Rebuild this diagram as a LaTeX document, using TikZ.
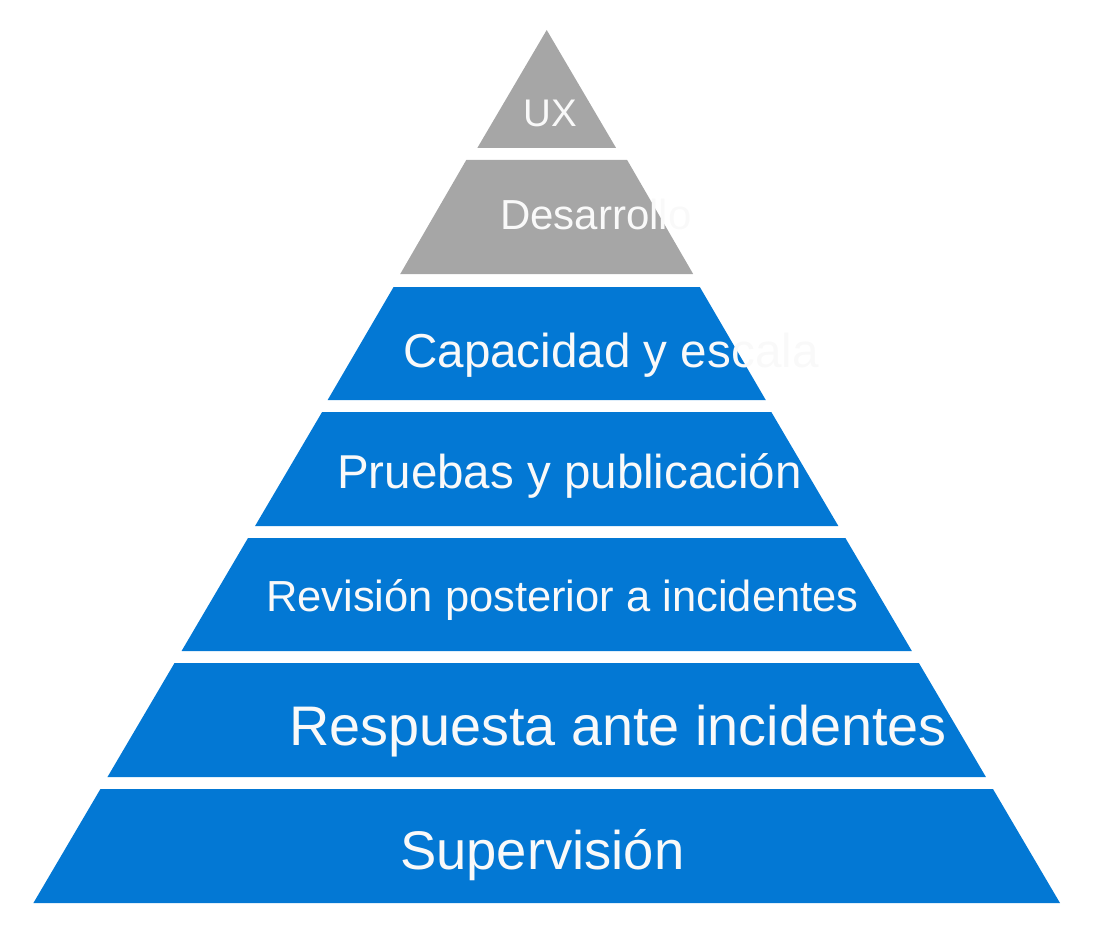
\documentclass[tikz,border=0pt]{standalone}
\usepackage{fontspec}
\setmainfont{Liberation Sans}
\definecolor{pblue}{HTML}{0378D4}
\definecolor{pgray}{HTML}{A6A6A6}
\definecolor{ptext}{HTML}{F9F9F9}
% colour, top y, bottom y, extra half-width at top, extra half-width at bottom
\newcommand\pyrlayer[5]{%
  \pgfmathsetmacro\wt{0.58797*(#2-30)+#4}%
  \pgfmathsetmacro\wb{0.58797*(#3-30)+#5}%
  \fill[#1] ({546.7-\wt},#2) -- ({546.7+\wt},#2) -- ({546.7+\wb},#3) -- ({546.7-\wb},#3) -- cycle;}
\begin{document}
\begin{tikzpicture}[x=1pt,y=-1pt,
  lbl/.style={text=ptext, inner sep=0pt, anchor=base west}]
\useasboundingbox (0,0) rectangle (1102,941);
\pyrlayer{pgray}{30}{148}{0}{0}
\pyrlayer{pgray}{160}{274}{4}{3}
\pyrlayer{pblue}{287}{400}{2}{1.5}
\pyrlayer{pblue}{412}{526}{0}{0}
\pyrlayer{pblue}{538}{651}{0}{0}
\pyrlayer{pblue}{663}{777}{0}{0}
\pyrlayer{pblue}{789}{903}{0}{0}
\node[lbl, font=\fontsize{38.5}{44}\selectfont] (ux) at (523,127) {UX};
\node[lbl, font=\fontsize{42}{48}\selectfont] (des) at (500,230) {Desarrollo};
\node[lbl, font=\fontsize{47.6}{54}\selectfont] (cap) at (403,367) {Capacidad y escala};
\node[lbl, font=\fontsize{47.5}{54}\selectfont] (pru) at (337,488) {Pruebas y publicación};
\node[lbl, font=\fontsize{43.5}{50}\selectfont] (rev) at (266,611) {Revisión posterior a incidentes};
\node[lbl, font=\fontsize{55.8}{62}\selectfont] (res) at (289,745) {Respuesta ante incidentes};
\node[lbl, font=\fontsize{54.4}{62}\selectfont] (sup) at (400,869) {Supervisión};
\end{tikzpicture}
\end{document}
